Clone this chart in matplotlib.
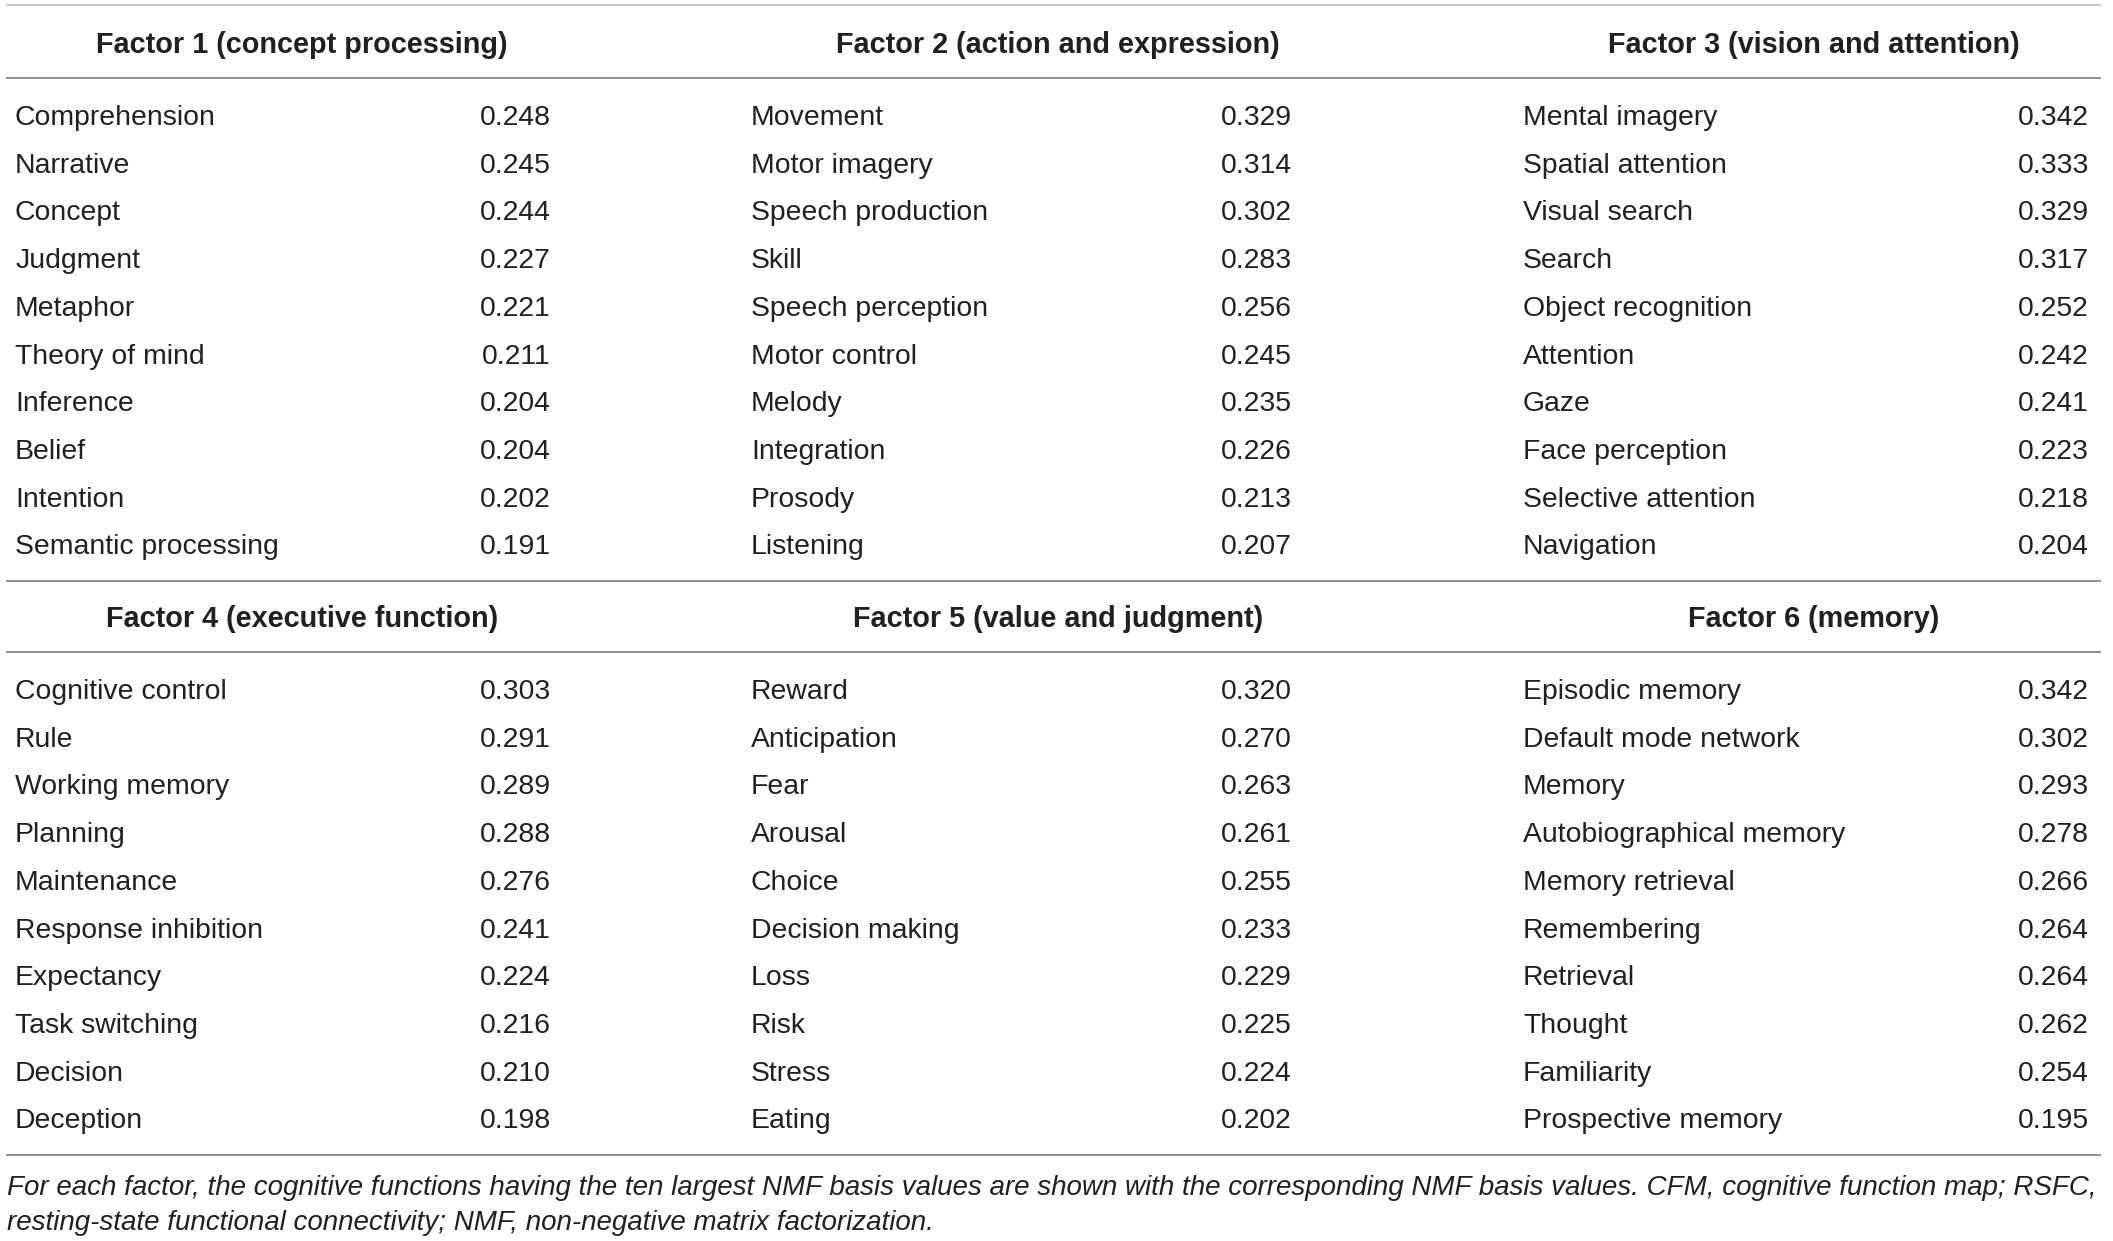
import matplotlib

matplotlib.use("Agg")

import matplotlib.pyplot as plt

factor_titles = [
    "Factor 1 (concept processing)",
    "Factor 2 (action and expression)",
    "Factor 3 (vision and attention)",
    "Factor 4 (executive function)",
    "Factor 5 (value and judgment)",
    "Factor 6 (memory)",
]

factor1_terms = ["Comprehension", "Narrative", "Concept", "Judgment", "Metaphor",
                 "Theory of mind", "Inference", "Belief", "Intention",
                 "Semantic processing"]
factor1_values = ["0.248", "0.245", "0.244", "0.227", "0.221", "0.211", "0.204",
                  "0.204", "0.202", "0.191"]

factor2_terms = ["Movement", "Motor imagery", "Speech production", "Skill",
                 "Speech perception", "Motor control", "Melody", "Integration",
                 "Prosody", "Listening"]
factor2_values = ["0.329", "0.314", "0.302", "0.283", "0.256", "0.245", "0.235",
                  "0.226", "0.213", "0.207"]

factor3_terms = ["Mental imagery", "Spatial attention", "Visual search", "Search",
                 "Object recognition", "Attention", "Gaze", "Face perception",
                 "Selective attention", "Navigation"]
factor3_values = ["0.342", "0.333", "0.329", "0.317", "0.252", "0.242", "0.241",
                  "0.223", "0.218", "0.204"]

factor4_terms = ["Cognitive control", "Rule", "Working memory", "Planning",
                 "Maintenance", "Response inhibition", "Expectancy",
                 "Task switching", "Decision", "Deception"]
factor4_values = ["0.303", "0.291", "0.289", "0.288", "0.276", "0.241", "0.224",
                  "0.216", "0.210", "0.198"]

factor5_terms = ["Reward", "Anticipation", "Fear", "Arousal", "Choice",
                 "Decision making", "Loss", "Risk", "Stress", "Eating"]
factor5_values = ["0.320", "0.270", "0.263", "0.261", "0.255", "0.233", "0.229",
                  "0.225", "0.224", "0.202"]

factor6_terms = ["Episodic memory", "Default mode network", "Memory",
                 "Autobiographical memory", "Memory retrieval", "Remembering",
                 "Retrieval", "Thought", "Familiarity", "Prospective memory"]
factor6_values = ["0.342", "0.302", "0.293", "0.278", "0.266", "0.264", "0.264",
                  "0.262", "0.254", "0.195"]

caption_lines = [
    "For each factor, the cognitive functions having the ten largest NMF basis "
    "values are shown with the corresponding NMF basis values. CFM, cognitive "
    "function map; RSFC,",
    "resting-state functional connectivity; NMF, non-negative matrix factorization.",
]

W, H = 2113, 1241
FONT = ["Liberation Sans", "DejaVu Sans"]
TEXT_COLOR = "#231f20"
RULE_COLOR = "#8f8f8f"

fig = plt.figure(figsize=(W / 100, H / 100), dpi=100)
ax = fig.add_axes([0, 0, 1, 1])
ax.set_xlim(0, W)
ax.set_ylim(H, 0)
ax.axis("off")

label_x = [15, 751, 1523]
value_x = [551, 1292, 2089]
title_x = [302, 1058, 1814]
row_step = 47.7

blocks = [
    (factor1_terms, factor1_values),
    (factor2_terms, factor2_values),
    (factor3_terms, factor3_values),
    (factor4_terms, factor4_values),
    (factor5_terms, factor5_values),
    (factor6_terms, factor6_values),
]

# two bands of three factors each
bands = [
    {"top": 5, "title_y": 45, "rule_y": 78, "first_row": 118},
    {"top": 581, "title_y": 619, "rule_y": 652, "first_row": 692},
]

for band_idx, band in enumerate(bands):
    rule_color = "#c4c4c4" if band_idx == 0 else RULE_COLOR
    ax.plot([7, 2100], [band["top"], band["top"]], color=rule_color, lw=1.4)
    ax.plot([7, 2100], [band["rule_y"], band["rule_y"]], color=RULE_COLOR, lw=1.4)
    for col in range(3):
        idx = band_idx * 3 + col
        terms, values = blocks[idx]
        ax.text(title_x[col], band["title_y"], factor_titles[idx],
                family=FONT, fontsize=20.8, weight="bold", color=TEXT_COLOR,
                ha="center", va="center")
        for row, (term, value) in enumerate(zip(terms, values)):
            y = band["first_row"] + row * row_step
            ax.text(label_x[col], y, term, family=FONT, fontsize=20.4,
                    color=TEXT_COLOR, ha="left", va="center")
            ax.text(value_x[col], y, value, family=FONT, fontsize=20.4,
                    color=TEXT_COLOR, ha="right", va="center")

ax.plot([7, 2100], [1155, 1155], color=RULE_COLOR, lw=1.4)

for i, line in enumerate(caption_lines):
    ax.text(7, 1188 + i * 35, line, family=FONT, fontsize=20, style="italic",
            color=TEXT_COLOR, ha="left", va="center")

fig.savefig("out.png", dpi=100)
plt.close(fig)
